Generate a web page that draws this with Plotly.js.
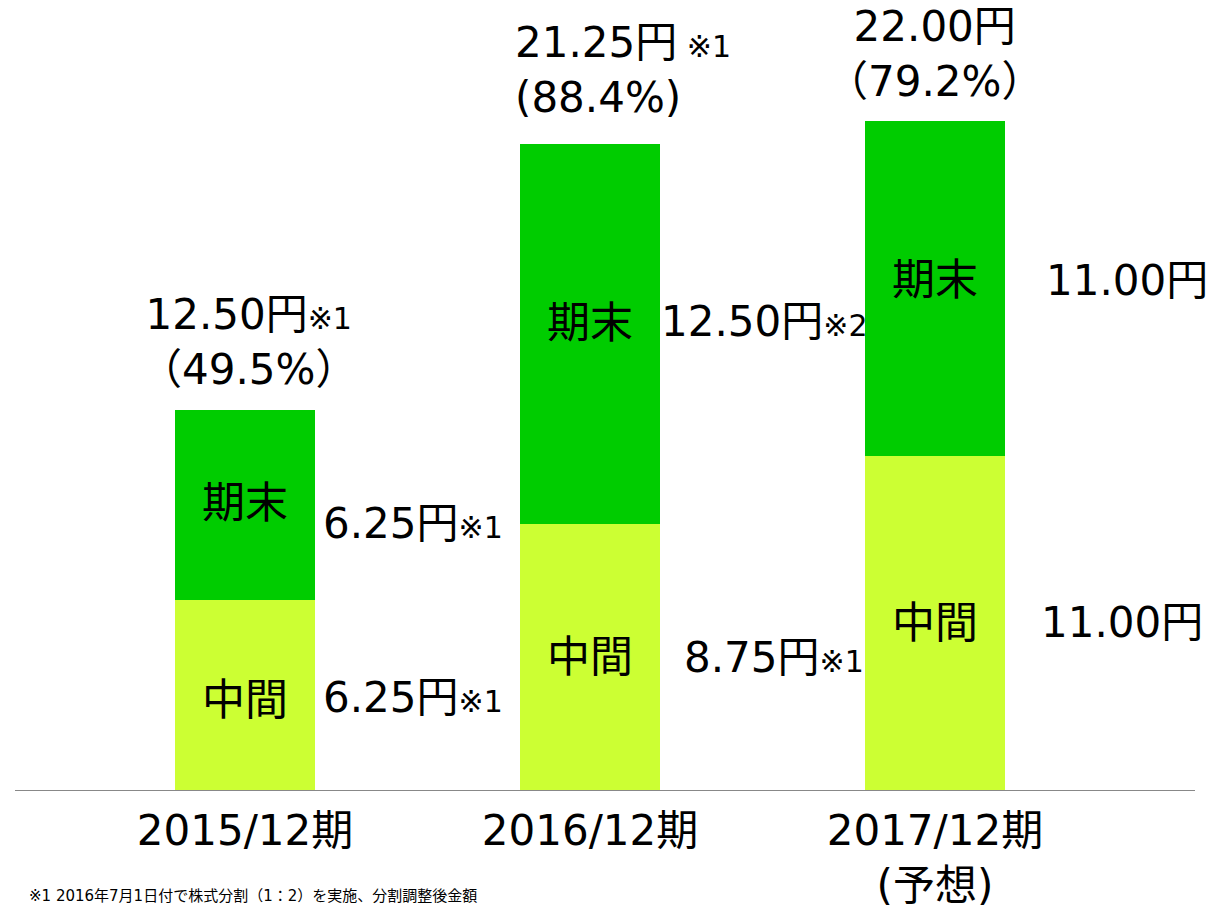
<!DOCTYPE html>
<html><head><meta charset="utf-8">
<script src="https://cdn.plot.ly/plotly-3.0.1.min.js"></script>
<style>html,body{margin:0;padding:0;background:#fff;}#chart{width:1211px;height:909px;}</style>
</head><body><div id="chart"></div>
<script>
const categories = ["2015/12期", "2016/12期", "2017/12期<br>(予想)"];
const interim = [6.25, 8.75, 11.00];
const yearEnd = [6.25, 12.50, 11.00];
const totals = [12.50, 21.25, 22.00];
const interimLabels = ["6.25円", "8.75円", "11.00円"];
const interimNotes = ["※1", "※1", ""];
const yearEndLabels = ["6.25円", "12.50円", "11.00円"];
const yearEndNotes = ["※1", "※2", ""];
const totalLabels = ["12.50円", "21.25円", "22.00円"];
const totalNotes = ["※1", " ※1", ""];
const payoutRatios = ["（49.5%）", "(88.4%)", "（79.2%）"];
const segInterim = "中間";
const segYearEnd = "期末";
const footnote = "※1 2016年7月1日付で株式分割（1：2）を実施、分割調整後金額";

const FONT = "DejaVu Sans, Noto Sans CJK JP, sans-serif";
const FS = 42;
const note = s => s ? '<span style="font-size:30px">' + s + '</span>' : '';

const traces = [
  {type: "bar", x: categories, y: interim, marker: {color: "#CCFF33"}, width: 0.405, hoverinfo: "none"},
  {type: "bar", x: categories, y: yearEnd, marker: {color: "#00CC00"}, width: 0.405, hoverinfo: "none"}
];

const ann = [];
const interimX = [76, 92, 104];
const yearEndX = [76, 69, 109];
const totalAlign = ["center", "left", "center"];
const totalYShift = [14, 20, 13];
categories.forEach((c, i) => {
  // inside segment labels
  ann.push({x: c, y: interim[i] / 2, text: segInterim, showarrow: false, font: {size: 43, color: "#000"}, yshift: i === 0 ? -5 : 0});
  ann.push({x: c, y: interim[i] + yearEnd[i] / 2, text: segYearEnd, showarrow: false, font: {size: 43, color: "#000"}, yshift: i === 0 ? 2 : (i === 1 ? 11 : 8)});
  // right side value labels
  ann.push({x: c, y: interim[i] / 2, text: interimLabels[i] + note(interimNotes[i]), showarrow: false,
    xanchor: "left", xshift: interimX[i], yshift: [-2, 0, 0][i], font: {size: FS, color: "#000"}});
  ann.push({x: c, y: interim[i] + yearEnd[i] / 2, text: yearEndLabels[i] + note(yearEndNotes[i]), showarrow: false,
    xanchor: "left", xshift: yearEndX[i], yshift: [-18, 13, 8][i], font: {size: FS, color: "#000"}});
  // total labels above bars
  ann.push({x: c, y: totals[i], text: totalLabels[i] + note(totalNotes[i]) + "<br>" + payoutRatios[i], showarrow: false,
    align: totalAlign[i], yanchor: "bottom", yshift: totalYShift[i], xshift: [3, 33, 0][i], font: {size: FS, color: "#000"}});
});
ann.push({xref: "paper", yref: "paper", x: 0.01, xanchor: "left", y: -0.12, yanchor: "top", text: footnote,
  showarrow: false, font: {size: 15, color: "#000"}});

const layout = {
  width: 1211, height: 909,
  margin: {l: 15, r: 16, t: 0, b: 119},
  paper_bgcolor: "#fff", plot_bgcolor: "#fff",
  barmode: "stack", showlegend: false,
  font: {family: FONT, color: "#000"},
  xaxis: {type: "category", range: [-0.667, 2.754], showline: true, linecolor: "#888", linewidth: 1,
    ticks: "", ticklabelstandoff: 4, showgrid: false, zeroline: false, tickfont: {size: FS, color: "#000"}, fixedrange: true},
  yaxis: {range: [0, 25.99], visible: false, showgrid: false, zeroline: false, fixedrange: true},
  annotations: ann
};
Plotly.newPlot("chart", traces, layout, {displayModeBar: false, staticPlot: true});
</script></body></html>
